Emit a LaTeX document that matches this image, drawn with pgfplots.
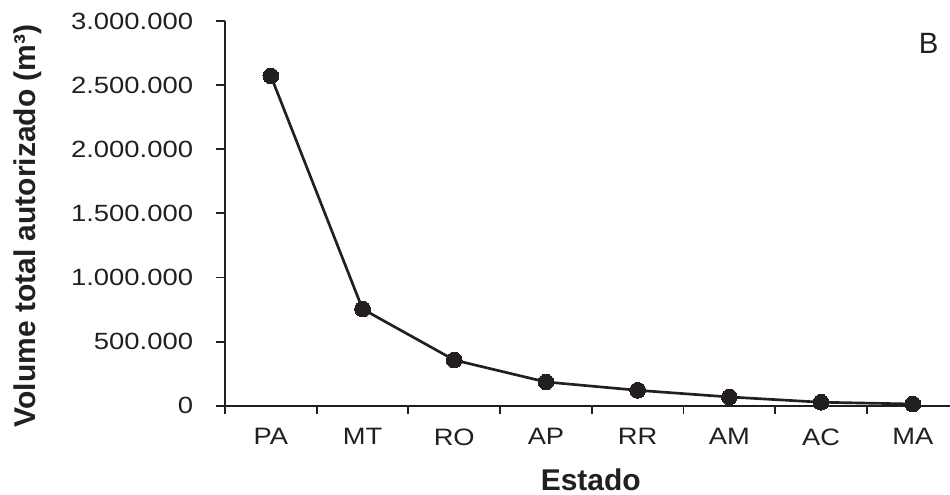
\documentclass[border=0pt]{standalone}
\usepackage{fontspec}
\setmainfont{Liberation Sans}
\usepackage{graphicx}
\usepackage{pgfplots}
\pgfplotsset{compat=1.18}
\definecolor{ink}{RGB}{35,31,32}
% slightly widened tick labels
\newcommand{\wide}[1]{\scalebox{1.17}[1]{#1}}
\newcommand{\widex}[1]{\scalebox{1.15}[1]{#1}}

\begin{document}
\begin{tikzpicture}
% fixed page frame
\path[use as bounding box] (0,0) rectangle (712.5pt,371.25pt);
\begin{axis}[
  at={(168.75pt,66.975pt)}, anchor=south west,
  scale only axis, width=543.75pt, height=288.5pt,
  xmin=-0.5, xmax=7.406, ymin=0, ymax=3000000,
  clip=false,
  axis x line*=bottom, axis y line*=left,
  axis line style={ink, line width=1.5pt},
  tick align=outside,
  major tick length=6.4pt,
  tick style={ink, line width=1.4pt},
  xtick={-0.5,0.5,...,6.5}, xticklabels={},
  extra x ticks={0,1,2,3,4,5,6,7},
  extra x tick labels={\widex{PA},\widex{MT},\widex{RO},\widex{AP},\widex{RR},\widex{AM},\widex{AC},\widex{MA}},
  extra x tick style={major tick length=0pt},
  xticklabel style={font=\fontsize{17.8}{20}\selectfont, text=ink,
    anchor=north, inner sep=0pt, yshift=-17pt},
  ytick={0,500000,1000000,1500000,2000000,2500000,3000000},
  scaled y ticks=false,
  yticklabel={\wide{\pgfmathprintnumber{\tick}}},
  yticklabel style={font=\fontsize{17.6}{20}\selectfont, text=ink,
    anchor=east, inner sep=0pt, xshift=-17.25pt},
  /pgf/number format/.cd, fixed, precision=0, 1000 sep={.}, assume math mode=true,
]
\addplot[ink, line width=2pt, mark=*, mark size=5.9pt,
  mark options={fill=ink, draw=ink, line width=0pt}]
  coordinates {
    (0,2572000) (1,754000) (2,356000) (3,185000)
    (4,120000) (5,68000) (6,27000) (7,13000)
  };
\end{axis}
\node[rotate=90, anchor=base, inner sep=0pt, text=ink,
  font=\fontsize{22.5}{26}\selectfont\bfseries]
  at (26.25pt,201.75pt) {Volume total autorizado (m³)};
\node[anchor=base, inner sep=0pt, text=ink,
  font=\fontsize{22.5}{26}\selectfont\bfseries]
  at (443.1pt,3.3pt) {Estado};
\node[anchor=base west, inner sep=0pt, text=ink,
  font=\fontsize{22}{26}\selectfont]
  at (688.95pt,331.3pt) {B};
\end{tikzpicture}
\end{document}
